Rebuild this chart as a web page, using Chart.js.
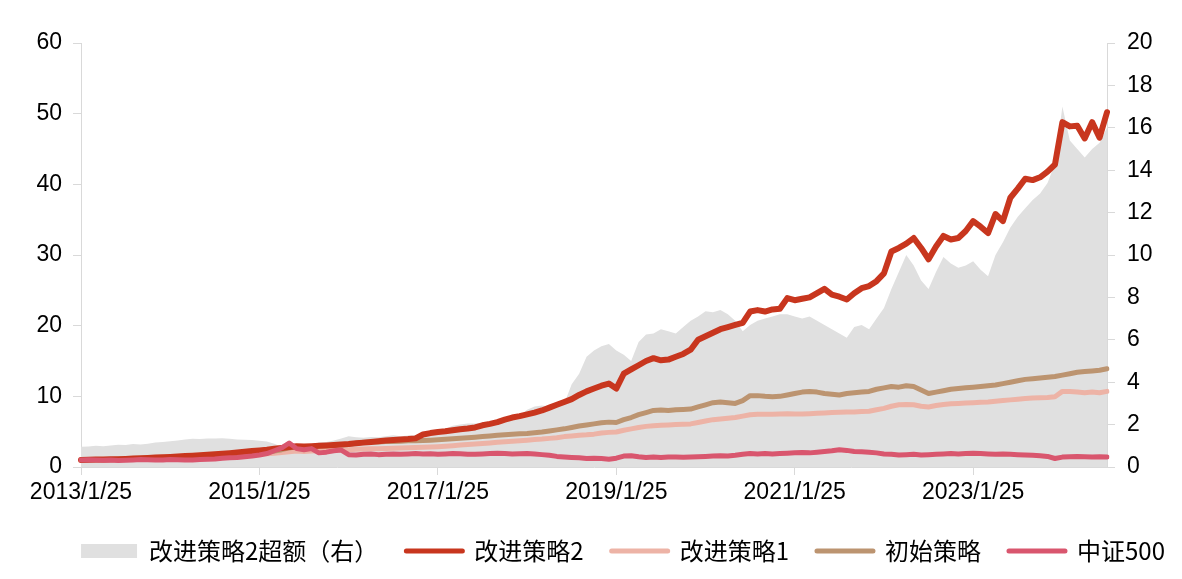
<!DOCTYPE html>
<html>
<head>
<meta charset="utf-8">
<script src="https://cdn.jsdelivr.net/npm/chart.js@4.4.1/dist/chart.umd.min.js"></script>
<style>
html,body{margin:0;padding:0;background:#fff;}
#wrap{width:1182px;height:579px;position:relative;}
</style>
</head>
<body>
<div id="wrap"><canvas id="c" width="1182" height="579"></canvas></div>
<script>
// ---- categories (monthly, 2013/1/25 .. 2024/7/25) ----
const startYear = 2013, monthCount = 139;
const categories = [];
for (let i = 0; i < monthCount; i++) {
  const y = startYear + Math.floor(i / 12), m = (i % 12) + 1;
  categories.push(y + '/' + m + '/25');
}
const xTickLabels = ['2013/1/25','2015/1/25','2017/1/25','2019/1/25','2021/1/25','2023/1/25'];
const leftTicks = [0,10,20,30,40,50,60];
const rightTicks = [0,2,4,6,8,10,12,14,16,18,20];

// 改进策略2超额（右）
const excess2 = [
0.95,0.97,1.00,0.98,1.02,1.05,1.04,1.08,1.06,1.10,1.15,1.18,
1.22,1.25,1.30,1.33,1.32,1.35,1.34,1.36,1.33,1.30,1.28,1.27,
1.24,1.20,1.10,0.95,0.85,0.90,1.00,1.05,1.15,1.18,1.25,1.35,
1.45,1.40,1.38,1.42,1.40,1.45,1.50,1.45,1.48,1.50,1.55,1.60,
1.65,1.80,1.95,2.00,2.05,2.05,2.10,2.10,2.15,2.25,2.35,2.40,
2.70,2.85,2.90,2.85,2.95,3.00,3.90,4.40,5.20,5.50,5.70,5.80,
5.50,5.30,5.00,5.90,6.25,6.30,6.50,6.40,6.30,6.60,6.90,7.10,
7.35,7.30,7.40,7.20,6.90,6.40,6.70,6.90,7.00,7.10,7.20,7.20,
7.10,7.00,7.10,6.90,6.70,6.50,6.30,6.10,6.60,6.70,6.50,7.00,
7.50,8.40,9.20,10.00,9.50,8.80,8.40,9.20,9.90,9.60,9.40,9.50,
9.70,9.30,9.00,10.00,10.60,11.30,11.80,12.20,12.60,12.90,13.40,14.30,
17.00,15.40,15.00,14.60,15.00,15.30,16.00
];
// 改进策略2
const strategy2 = [
1.00,1.02,1.05,1.06,1.08,1.10,1.15,1.20,1.24,1.28,1.33,1.38,
1.42,1.48,1.54,1.60,1.66,1.72,1.80,1.88,1.96,2.05,2.15,2.25,
2.35,2.45,2.58,2.70,2.82,2.95,2.90,2.95,3.00,3.05,3.12,3.20,
3.25,3.35,3.45,3.55,3.65,3.75,3.82,3.90,3.95,4.05,4.60,4.80,
4.95,5.05,5.20,5.35,5.45,5.60,5.90,6.10,6.35,6.70,7.00,7.20,
7.45,7.70,8.00,8.40,8.80,9.20,9.60,10.20,10.70,11.10,11.50,11.80,
11.10,13.20,13.80,14.40,15.00,15.40,15.10,15.20,15.60,16.00,16.60,18.00,
18.50,19.00,19.50,19.80,20.10,20.40,22.00,22.20,22.00,22.30,22.40,23.90,
23.60,23.80,24.00,24.60,25.20,24.40,24.10,23.70,24.60,25.30,25.60,26.30,
27.40,30.50,31.00,31.60,32.40,31.00,29.40,31.20,32.70,32.20,32.40,33.40,
34.80,34.00,33.10,35.80,34.80,38.10,39.40,40.80,40.60,41.00,41.80,42.80,
48.80,48.20,48.30,46.50,48.80,46.60,50.20
];
// 改进策略1
const strategy1 = [
1.00,1.01,1.02,1.03,1.05,1.07,1.10,1.13,1.16,1.19,1.22,1.25,
1.28,1.32,1.36,1.40,1.44,1.48,1.52,1.56,1.60,1.65,1.70,1.75,
1.80,1.88,1.96,2.05,2.15,2.25,2.20,2.25,2.30,2.38,2.40,2.42,
2.45,2.50,2.55,2.58,2.60,2.62,2.65,2.68,2.72,2.75,2.78,2.82,
2.88,2.95,3.02,3.10,3.18,3.25,3.32,3.40,3.50,3.58,3.65,3.72,
3.80,3.88,3.95,4.05,4.15,4.30,4.40,4.50,4.55,4.65,4.80,4.90,
4.95,5.20,5.40,5.60,5.75,5.85,5.90,5.95,6.00,6.05,6.10,6.30,
6.50,6.70,6.80,6.90,7.00,7.20,7.40,7.45,7.45,7.45,7.50,7.55,
7.50,7.50,7.55,7.60,7.65,7.70,7.75,7.80,7.80,7.85,7.90,8.10,
8.30,8.60,8.80,8.85,8.80,8.60,8.50,8.70,8.85,8.95,9.00,9.05,
9.10,9.15,9.20,9.30,9.40,9.50,9.60,9.70,9.75,9.80,9.85,9.95,
10.70,10.70,10.60,10.50,10.60,10.50,10.70
];
// 初始策略
const initial = [
1.00,1.01,1.03,1.04,1.06,1.08,1.12,1.16,1.20,1.24,1.28,1.32,
1.36,1.40,1.45,1.50,1.55,1.60,1.66,1.72,1.78,1.85,1.90,1.95,
2.00,2.10,2.25,2.45,2.70,2.90,2.80,2.85,2.95,3.00,3.05,3.10,
3.20,3.35,3.50,3.55,3.55,3.60,3.62,3.65,3.70,3.72,3.75,3.80,
3.85,3.92,4.00,4.08,4.15,4.22,4.30,4.40,4.50,4.58,4.65,4.70,
4.75,4.85,4.95,5.10,5.25,5.40,5.60,5.80,5.95,6.10,6.25,6.35,
6.30,6.70,7.00,7.40,7.70,8.00,8.05,8.00,8.10,8.15,8.20,8.50,
8.80,9.10,9.20,9.10,9.00,9.40,10.10,10.10,10.00,9.95,10.00,10.20,
10.40,10.60,10.70,10.60,10.40,10.30,10.20,10.40,10.50,10.60,10.70,11.00,
11.20,11.40,11.30,11.50,11.40,10.90,10.40,10.60,10.80,11.00,11.10,11.20,
11.30,11.40,11.50,11.60,11.80,12.00,12.20,12.40,12.50,12.60,12.70,12.80,
13.00,13.20,13.40,13.50,13.60,13.70,13.90
];
// 中证500
const csi500 = [
1.00,1.02,0.98,0.96,0.98,0.92,0.95,1.00,1.05,1.02,0.98,1.00,
1.05,1.02,0.98,1.00,1.05,1.10,1.12,1.25,1.30,1.35,1.45,1.55,
1.70,1.90,2.30,2.70,3.40,2.60,2.45,2.60,2.00,2.10,2.30,2.40,
1.75,1.70,1.80,1.85,1.75,1.80,1.85,1.82,1.85,1.90,1.85,1.88,
1.80,1.85,1.90,1.88,1.82,1.80,1.85,1.90,1.95,1.90,1.85,1.88,
1.90,1.85,1.75,1.65,1.50,1.42,1.35,1.30,1.20,1.25,1.20,1.10,
1.25,1.55,1.60,1.45,1.35,1.40,1.35,1.40,1.42,1.38,1.42,1.45,
1.50,1.55,1.60,1.55,1.65,1.80,1.90,1.85,1.90,1.85,1.90,1.95,
2.00,2.05,2.00,2.10,2.20,2.30,2.45,2.35,2.20,2.15,2.10,2.00,
1.85,1.80,1.70,1.75,1.80,1.70,1.75,1.80,1.85,1.90,1.85,1.90,
1.95,1.90,1.85,1.80,1.85,1.80,1.75,1.70,1.65,1.60,1.50,1.20,
1.40,1.45,1.50,1.45,1.40,1.45,1.40
];

const seriesNames = ['改进策略2超额（右）','改进策略2','改进策略1','初始策略','中证500'];
const colors = ['#E0E0E0','#C8361E','#EDB3A6','#BC9470','#D9566E'];

const tickFont = {family: "'Liberation Sans', Arial, sans-serif", size: 23};
const axisColor = '#D9D9D9';

function lineDs(label, data, color, order, width) {
  return {type:'line', label, data, borderColor: color, backgroundColor: color,
    borderWidth: width, pointRadius: 0, tension: 0, fill: false, order,
    yAxisID: 'y', borderCapStyle:'round', borderJoinStyle:'round'};
}

const legendShift = {
  id: 'legendShift',
  afterLayout(chart) {
    if (chart.legend) { chart.legend.left += 32; chart.legend.right += 32; }
  }
};

new Chart(document.getElementById('c'), {
  type: 'line',
  data: {
    labels: categories,
    datasets: [
      {type:'line', label: seriesNames[0], data: excess2, yAxisID:'y1', fill:'origin',
       backgroundColor: colors[0], borderColor: colors[0], borderWidth: 0, pointRadius: 0, tension: 0, order: 10},
      lineDs(seriesNames[1], strategy2, colors[1], 2, 6),
      lineDs(seriesNames[2], strategy1, colors[2], 4, 5),
      lineDs(seriesNames[3], initial, colors[3], 3, 5),
      lineDs(seriesNames[4], csi500, colors[4], 1, 5)
    ]
  },
  plugins: [legendShift],
  options: {
    responsive: false,
    devicePixelRatio: 1,
    animation: false,
    layout: {padding: {top: 43, left: 0, right: 0, bottom: 6}},
    plugins: {
      tooltip: {enabled: false},
      legend: {
        position: 'bottom',
        labels: {
          usePointStyle: true,
          pointStyleWidth: 56,
          boxHeight: 14,
          padding: 28,
          color: '#000',
          font: {family: "'Noto Sans CJK SC', sans-serif", size: 24},
          generateLabels(chart) {
            return chart.data.datasets.map((ds, i) => ({
              text: ds.label,
              datasetIndex: i,
              fillStyle: colors[i],
              strokeStyle: colors[i],
              lineWidth: i === 0 ? 0 : 5,
              lineCap: 'round',
              pointStyle: i === 0 ? 'rect' : 'line',
              hidden: false,
              fontColor: '#000'
            }));
          }
        }
      }
    },
    scales: {
      x: {
        type: 'category',
        offset: false,
        grid: {display: true, drawOnChartArea: false, drawTicks: true, tickLength: 8, color: axisColor},
        border: {display: true, color: axisColor},
        ticks: {
          autoSkip: false, maxRotation: 0, minRotation: 0, color: '#000', font: tickFont, padding: 4,
          callback(v, i) { const l = categories[i]; return xTickLabels.includes(l) ? l : null; }
        },
        afterFit(s) { s.height = 44; }
      },
      y: {
        position: 'left', min: 0, max: 60,
        afterBuildTicks(s) { s.ticks = leftTicks.map(v => ({value: v})); },
        grid: {display: true, drawOnChartArea: false, tickLength: 8, color: axisColor},
        border: {display: true, color: axisColor},
        ticks: {color: '#000', font: tickFont, padding: 11},
        afterFit(s) { s.width = 81; }
      },
      y1: {
        position: 'right', min: 0, max: 20,
        afterBuildTicks(s) { s.ticks = rightTicks.map(v => ({value: v})); },
        grid: {display: true, drawOnChartArea: false, tickLength: 8, color: axisColor},
        border: {display: true, color: axisColor},
        ticks: {color: '#000', font: tickFont, padding: 12},
        afterFit(s) { s.width = 75; }
      }
    }
  }
});
</script>
</body>
</html>
